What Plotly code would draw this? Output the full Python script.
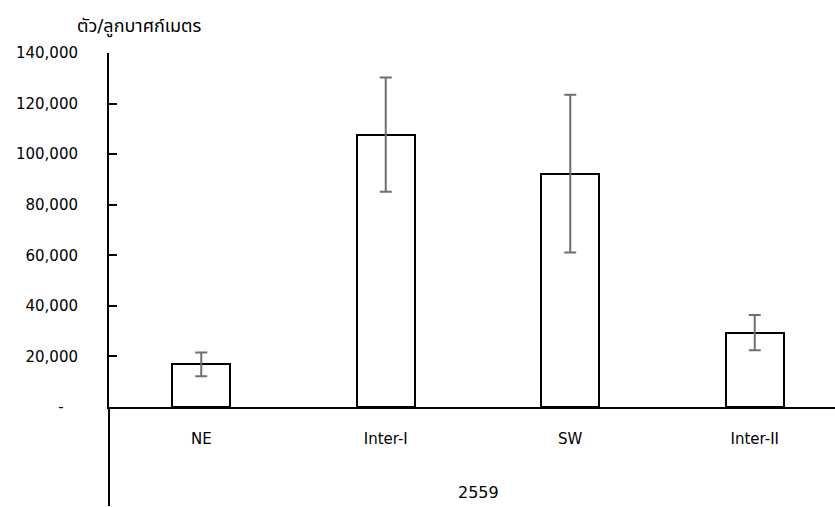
import plotly.graph_objects as go

categories = ["NE", "Inter-I", "SW", "Inter-II"]
means = [16900, 107700, 92300, 29400]
errors = [4700, 22600, 31200, 7000]
group_label = "2559"
y_title = "ตัว/ลูกบาศก์เมตร"
y_tickvals = [0, 20000, 40000, 60000, 80000, 100000, 120000, 140000]
y_ticktext = ["-\u00a0\u00a0\u00a0", "20,000", "40,000", "60,000", "80,000", "100,000", "120,000", "140,000"]

FONT = "DejaVu Sans, Tahoma, 'Noto Sans Thai', sans-serif"

fig = go.Figure()
fig.add_trace(go.Bar(
    x=list(range(len(categories))),
    y=means,
    width=0.315,
    marker=dict(color="white", line=dict(color="black", width=2)),
    error_y=dict(type="data", array=errors, visible=True, color="#6f6f6f", thickness=2, width=6),
    showlegend=False,
))

W, H = 835, 507
L, T, B = 109, 53, 100
plot_h = H - T - B  # 354
plot_bottom = T + plot_h


def py(screen_y):
    """screen y pixel -> paper y"""
    return (plot_bottom - screen_y) / plot_h


def px(screen_x):
    return (screen_x - L) / (W - L)


fig.update_layout(
    width=W, height=H,
    margin=dict(l=L, r=0, t=T, b=B, pad=0),
    plot_bgcolor="white", paper_bgcolor="white",
    font=dict(family=FONT, size=15, color="black"),
    bargap=0,
)
fig.update_xaxes(
    range=[-0.5, 3.435],
    tickvals=list(range(len(categories))), ticktext=categories,
    showline=True, linecolor="black", linewidth=2,
    ticks="", showgrid=False, zeroline=False,
    ticklabelstandoff=17,
    tickfont=dict(size=15, family=FONT),
)
fig.update_yaxes(
    range=[0, 140000],
    tickvals=y_tickvals, ticktext=y_ticktext,
    showline=True, linecolor="black", linewidth=2,
    ticks="inside", ticklen=8, tickwidth=2, tickcolor="black",
    showgrid=False, zeroline=False,
    ticklabelstandoff=26,
    tickfont=dict(size=15, family=FONT),
)
# extension of the vertical axis below the category axis
fig.add_shape(type="line", xref="paper", yref="paper",
              x0=0, x1=0, y0=py(506), y1=0,
              line=dict(color="black", width=2))
fig.add_annotation(text=y_title, xref="paper", yref="paper",
                   x=px(75), y=py(27),
                   xanchor="left", yanchor="middle", showarrow=False,
                   font=dict(size=18, family=FONT))
fig.add_annotation(text=group_label, xref="x", yref="paper",
                   x=1.5, y=py(492),
                   xanchor="center", yanchor="middle", showarrow=False,
                   font=dict(size=16, family=FONT))

fig.write_html(
    "out.html",
    config={"displayModeBar": False},
    post_script="document.body.style.margin='0';document.body.style.overflow='hidden';",
)
